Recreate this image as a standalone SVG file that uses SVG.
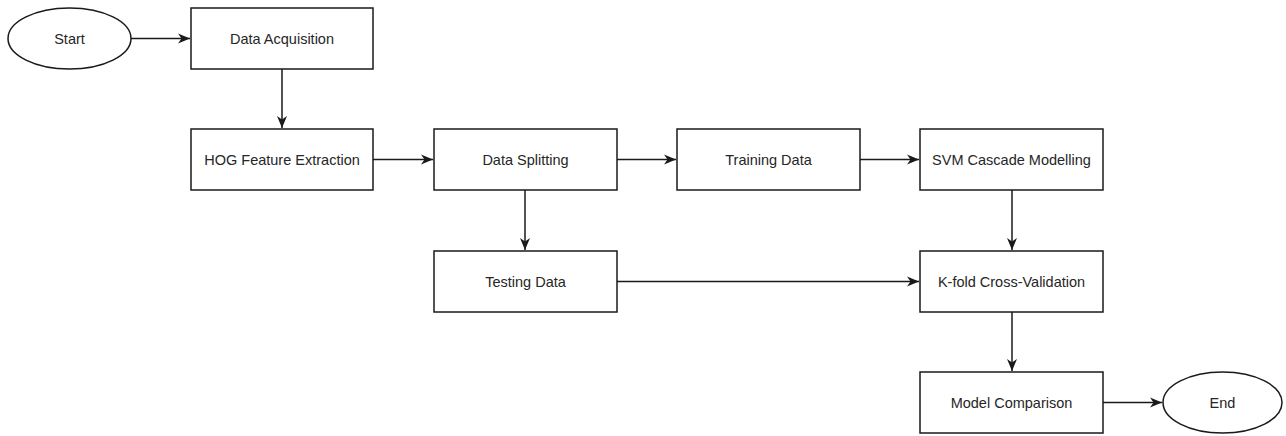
<svg xmlns="http://www.w3.org/2000/svg" width="1286" height="436" viewBox="0 0 1286 436">
<style>
.n{fill:#fff;stroke:#1a1a1a;stroke-width:1.5}
.t{font-family:"Liberation Sans",Arial,sans-serif;font-size:14.5px;fill:#262626;text-anchor:middle;dominant-baseline:central}
.c{fill:none;stroke:#1a1a1a;stroke-width:1.5}
</style>
<defs>
<marker id="a" markerWidth="13" markerHeight="12" refX="12" refY="6" orient="auto" markerUnits="userSpaceOnUse">
<path d="M0,1 L12,6 L0,11 L3.5,6 Z" fill="#1a1a1a"/>
</marker>
</defs>
<rect width="1286" height="436" fill="#fff"/>
<g id="connectors">
<path class="c" d="M131,38.5 H190" marker-end="url(#a)"/>
<path class="c" d="M282,69 V128" marker-end="url(#a)"/>
<path class="c" d="M373,159.5 H433" marker-end="url(#a)"/>
<path class="c" d="M617,159.5 H676" marker-end="url(#a)"/>
<path class="c" d="M860,159.5 H919" marker-end="url(#a)"/>
<path class="c" d="M525,190 V250" marker-end="url(#a)"/>
<path class="c" d="M1012,190 V250" marker-end="url(#a)"/>
<path class="c" d="M617,281.5 H919" marker-end="url(#a)"/>
<path class="c" d="M1012,312 V371" marker-end="url(#a)"/>
<path class="c" d="M1103,402.5 H1162" marker-end="url(#a)"/>
</g>
<g id="start"><ellipse class="n" cx="69.5" cy="38.5" rx="61.5" ry="30.5"/><text class="t" x="69.5" y="38.5">Start</text></g>
<g id="data-acquisition"><rect class="n" x="191" y="8" width="182" height="61"/><text class="t" x="282" y="38.5">Data Acquisition</text></g>
<g id="hog"><rect class="n" x="191" y="129" width="182" height="61"/><text class="t" x="282" y="159.5">HOG Feature Extraction</text></g>
<g id="data-splitting"><rect class="n" x="434" y="129" width="183" height="61"/><text class="t" x="525.5" y="159.5">Data Splitting</text></g>
<g id="training-data"><rect class="n" x="677" y="129" width="183" height="61"/><text class="t" x="768.5" y="159.5">Training Data</text></g>
<g id="svm"><rect class="n" x="920" y="129" width="183" height="61"/><text class="t" x="1011.5" y="159.5">SVM Cascade Modelling</text></g>
<g id="testing-data"><rect class="n" x="434" y="251" width="183" height="61"/><text class="t" x="525.5" y="281.5">Testing Data</text></g>
<g id="kfold"><rect class="n" x="920" y="251" width="183" height="61"/><text class="t" x="1011.5" y="281.5">K-fold Cross-Validation</text></g>
<g id="model-comparison"><rect class="n" x="920" y="372" width="183" height="61"/><text class="t" x="1011.5" y="402.5">Model Comparison</text></g>
<g id="end"><ellipse class="n" cx="1222.5" cy="402.5" rx="59.5" ry="30.5"/><text class="t" x="1222.5" y="402.5">End</text></g>
</svg>
